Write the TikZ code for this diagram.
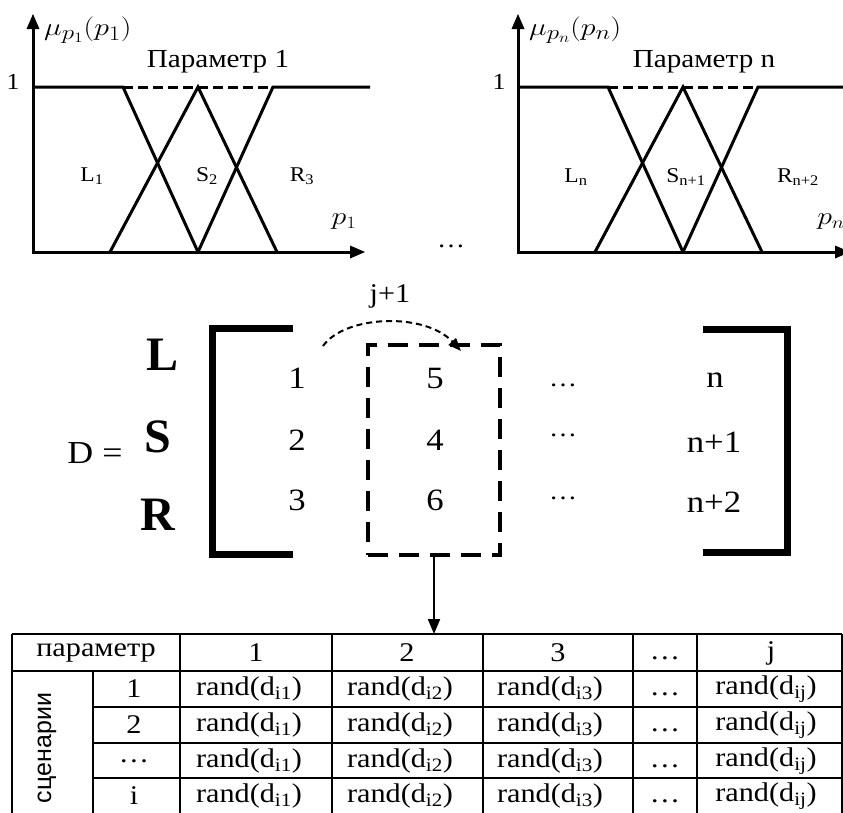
\documentclass[tikz,border=0pt]{standalone}
\usepackage{fontspec}
\usepackage{graphicx}
\setmainfont{Liberation Serif}[FakeStretch=1.12]
\newfontfamily\plainserif{Liberation Serif}
\newfontfamily\sansru{Liberation Sans}
\usetikzlibrary{arrows.meta}

\newcommand\fs[1]{\fontsize{#1}{#1}\selectfont}
\newcommand\sub[1]{\textsubscript{#1}}

% one membership-function chart (three terms on a unit scale)
\newcommand\fuzzyplot{%
  \draw[curve] (33,87) -- (123,87) -- (198,252);
  \draw[curve] (110,252) -- (198,87) -- (277,252);
  \draw[curve] (198,252) -- (273,87) -- (370,87);
  \draw[lvl] (123,87) -- (273,87);
  \draw[curve, line cap=rect] (33,28) -- (33,252) -- (351,252);
  \fill (33,14) -- (26.5,29) -- (39.5,29) -- cycle;
  \fill (365,252) -- (350,245.5) -- (350,258.5) -- cycle;
}

\begin{document}
\begin{tikzpicture}[x=1pt,y=-1pt,
  curve/.style={line width=3pt},
  lvl/.style={line width=3pt, dash pattern=on 10pt off 5pt},
  lbl/.style={inner sep=0pt, anchor=center},
  bracket/.style={line width=7pt},
  selbox/.style={draw, line width=4pt, dash pattern=on 20pt off 11pt, minimum width=132pt, minimum height=210pt, inner sep=0pt},
  jump/.style={line width=2pt, dash pattern=on 6pt off 4pt, arrows={-Triangle[length=13pt,width=10pt]}},
  feed/.style={line width=2pt, arrows={-Triangle[length=15pt,width=12pt]}},
  grid/.style={line width=1.5pt},
  cell/.style={inner sep=0pt, anchor=center, font=\fs{27}},
  mnum/.style={inner sep=0pt, anchor=center, font=\fs{31}},
  term/.style={inner sep=0pt, anchor=center, font=\plainserif\bfseries\fs{48}}]
\useasboundingbox (0,0) rectangle (843,812);
\clip (0,0) rectangle (843,812);

% ---------- chart for parameter 1 ----------
\fuzzyplot
\node[lbl, anchor=west] (mu1) at (44,30) {\scalebox{1.2}[1]{\fs{28}$\mu_{p_1}(p_1)$}};
\node[lbl, font=\fs{26}] (t1) at (218,62) {Параметр 1};
\node[lbl, font=\fs{23}] (one1) at (13,82) {1};
\node[lbl, font=\fs{21}] (l1) at (92,176) {L\sub{1}};
\node[lbl, font=\fs{21}] (s2) at (207,176) {S\sub{2}};
\node[lbl, font=\fs{21}] (r3) at (302,176) {R\sub{3}};
\node[lbl] (p1) at (344,222) {\scalebox{1.2}[1]{\fs{26}$p_1$}};

\node[lbl, font=\fs{25}] (gap) at (451,246) {\dots};

% ---------- chart for parameter n ----------
\begin{scope}[xshift=485pt]
  \fuzzyplot
\end{scope}
\node[lbl, anchor=west] (mun) at (529,30) {\scalebox{1.2}[1]{\fs{28}$\mu_{p_n}(p_n)$}};
\node[lbl, font=\fs{26}] (tn) at (704,62) {Параметр n};
\node[lbl, font=\fs{23}] (onen) at (499,82) {1};
\node[lbl, font=\fs{21}] (ln) at (576,177) {L\sub{n}};
\node[lbl, font=\fs{21}] (sn) at (686,177) {S\sub{n+1}};
\node[lbl, font=\fs{21}] (rn) at (798,177) {R\sub{n+2}};
\node[lbl] (pn) at (831,222) {\scalebox{1.2}[1]{\fs{26}$p_n$}};

% ---------- matrix D ----------
\node[lbl, font=\fs{32}] (deq) at (95,453) {D =};
\node[term] (tl) at (163,355) {L};
\node[term] (ts) at (158,437) {S};
\node[term] (tr) at (158,515) {R};
\draw[bracket] (293,328) -- (212,328) -- (212,554) -- (293,554);
\draw[bracket] (703,329) -- (787,329) -- (787,552) -- (703,552);

\node[mnum] (a1) at (297,378) {1};
\node[mnum] (a2) at (297,440) {2};
\node[mnum] (a3) at (297,500) {3};
\node[mnum] (b1) at (435,378) {5};
\node[mnum] (b2) at (435,440) {4};
\node[mnum] (b3) at (435,500) {6};
\node[lbl, font=\fs{25}] (c1) at (563,385) {\dots};
\node[lbl, font=\fs{25}] (c2) at (563,435) {\dots};
\node[lbl, font=\fs{25}] (c3) at (563,498) {\dots};
\node[mnum] (n1) at (715,380) {n};
\node[mnum] (n2) at (714,442) {n+1};
\node[mnum] (n3) at (714,502) {n+2};

\node[selbox] (col) at (434,450) {};
\node[lbl, font=\fs{27}] (jlab) at (390,296) {j+1};
\coordinate (jfrom) at (323,346);
\coordinate (jto) at (461,351);
\draw[jump] (jfrom) .. controls (345,315) and (425,312) .. (jto);

\coordinate (tabtop) at (434,634);
\draw[feed] (col.south) -- (tabtop);

% ---------- scenario table ----------
\draw[grid] (12,634) -- (842,634);
\draw[grid] (12,671) -- (842,671);
\foreach \y in {707,743,778} \draw[grid] (93,\y) -- (842,\y);
\draw[grid] (12,634) -- (12,815);
\draw[grid] (93,671) -- (93,815);
\foreach \x in {180,332,483,633,697,842} \draw[grid] (\x,634) -- (\x,815);

\node[cell] (hpar) at (96,653) {параметр};
\node[cell] (h1) at (256,653) {1};
\node[cell] (h2) at (407,653) {2};
\node[cell] (h3) at (558,653) {3};
\node[cell] (hd) at (665,658) {\dots};
\node[cell] (hj) at (771,653) {j};
\node[inner sep=0pt, rotate=90, font=\sansru\fs{25}] (scen) at (47,748) {сценарии};

\foreach \r/\y/\lab in {1/689/1, 2/725/2, 3/761/\dots, 4/796/i} {
  \node[cell] (row\r) at (134,\y) {\lab};
  \node[cell] (v\r a) at (249,\y) {rand(d\sub{i1})};
  \node[cell] (v\r b) at (400,\y) {rand(d\sub{i2})};
  \node[cell] (v\r c) at (550,\y) {rand(d\sub{i3})};
  \node[cell] (v\r d) at (665,\y+5) {\dots};
  \node[cell] (v\r e) at (766,\y) {rand(d\sub{ij})};
}
\end{tikzpicture}
\end{document}
